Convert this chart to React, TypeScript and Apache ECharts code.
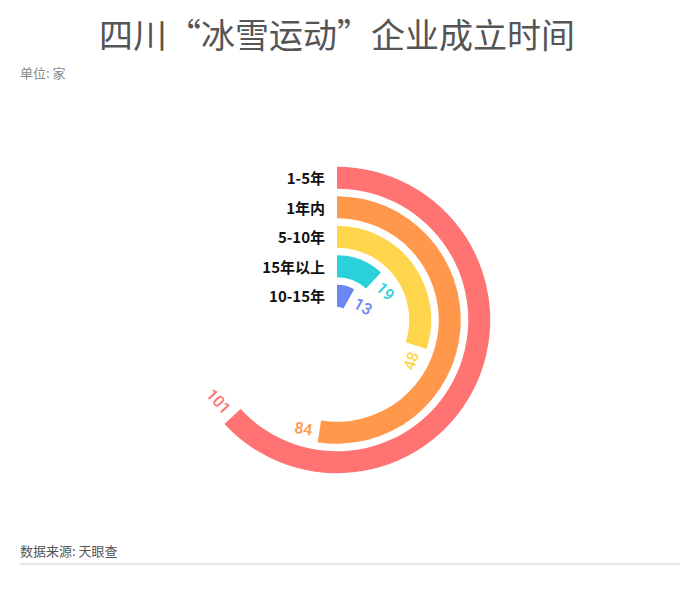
import React, { useEffect, useRef } from "react";
import * as echarts from "echarts";

const categories = ["10-15年", "15年以上", "5-10年", "1年内", "1-5年"];
const values = [13, 19, 48, 84, 101];
const colors = ["#6b87f1", "#2bd1da", "#ffd54b", "#ff984a", "#ff7373"];
const angleMax = 160;

const titleText = "四川“冰雪运动”企业成立时间";
const unitText = "单位: 家";
const sourceText = "数据来源: 天眼查";

function labelRotate(v: number): { rot: number; flipped: boolean } {
  let r = -(v / angleMax) * 360;
  while (r <= -180) r += 360;
  while (r > 180) r -= 360;
  let flipped = false;
  if (r > 90) {
    r -= 180;
    flipped = true;
  } else if (r < -90) {
    r += 180;
    flipped = true;
  }
  return { rot: (r * Math.PI) / 180, flipped };
}

export default function App() {
  const ref = useRef<HTMLDivElement>(null);
  useEffect(() => {
    if (!ref.current) return;
    const chart = echarts.init(ref.current, null, { renderer: "svg" });
    const font = "'Noto Sans CJK SC', 'Noto Sans', sans-serif";
    chart.setOption({
      animation: false,
      backgroundColor: "#fff",
      title: [
        {
          text: titleText,
          left: 94,
          top: 11,
          textStyle: { fontSize: 34, fontWeight: "normal", color: "#555", fontFamily: font },
        },
      ],
      graphic: [
        {
          type: "text",
          left: 20,
          top: 66,
          style: { text: unitText, fontSize: 13, fill: "#888", fontFamily: font },
        },
        {
          type: "text",
          left: 20,
          top: 544,
          style: { text: sourceText, fontSize: 13, fill: "#555", fontFamily: font },
        },
        {
          type: "line",
          shape: { x1: 20, y1: 564, x2: 680, y2: 564 },
          style: { stroke: "#e6e6e6", lineWidth: 2 },
        },
      ],
      polar: { center: [337, 320], radius: [9.5, 157] },
      angleAxis: {
        type: "value",
        min: 0,
        max: angleMax,
        startAngle: 90,
        clockwise: true,
        show: false,
      },
      radiusAxis: {
        type: "category",
        data: categories,
        axisLine: { show: false },
        axisTick: { show: false },
        splitLine: { show: false },
        axisLabel: {
          interval: 0,
          color: "#111",
          fontSize: 15,
          fontWeight: "bold",
          fontFamily: font,
          margin: 12,
        },
        z: 10,
      },
      series: [
        {
          type: "bar",
          coordinateSystem: "polar",
          barWidth: 22,
          data: values.map((v, i) => {
            const lr = labelRotate(v);
            const label: any = { rotate: lr.rot, color: colors[i] };
            if (lr.flipped) label.align = "right";
            return { value: v, itemStyle: { color: colors[i] }, label };
          }),
          label: {
            show: true,
            position: "end",
            fontSize: 16,
            fontFamily: "Roboto, sans-serif",
            fontWeight: 500,
            distance: 7,
          },
        },
      ],
    });
    return () => chart.dispose();
  }, []);
  return (
    <div
      ref={ref}
      style={{ position: "absolute", left: 0, top: 0, width: 700, height: 594 }}
    />
  );
}
